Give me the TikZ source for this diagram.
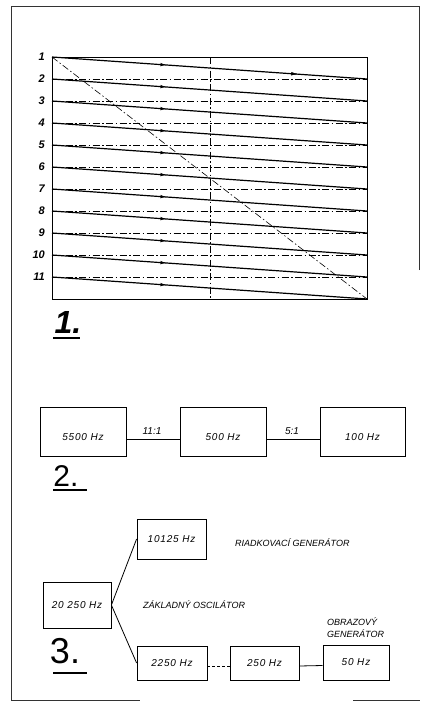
\documentclass[tikz,border=0pt]{standalone}
\usepackage{fontspec}
\setmainfont{Liberation Sans}
\usetikzlibrary{decorations.markings,arrows.meta}
\tikzset{
  chartline/.style={line width=1.2pt, postaction={decorate},
    decoration={markings, mark=at position 0.365 with {\arrow{Latex[length=6.5pt,width=3.5pt]}}}},
  dashdotline/.style={line width=0.6pt, dash pattern=on 7pt off 2.5pt on 1.5pt off 2.5pt},
  rowlab/.style={font=\fontsize{11}{13}\selectfont\bfseries\itshape, anchor=east, inner sep=0pt},
  hzbox/.style={draw, line width=0.8pt, inner sep=0pt, font=\fontsize{10}{12}\selectfont\itshape\addfontfeatures{LetterSpace=8}},
  small/.style={font=\fontsize{9}{11}\selectfont\itshape, inner sep=0pt},
  bignum/.style={font=\fontsize{30}{32}\selectfont, inner sep=0pt},
  conn/.style={line width=0.8pt}
}
\begin{document}
\begin{tikzpicture}[x=1pt,y=-1pt]
\useasboundingbox (0,0) rectangle (423,712);
% outer frame
\coordinate (FTL) at (11,6);
\coordinate (FTR) at (419,6);
\coordinate (FRB) at (419,270);
\coordinate (FBL) at (11,700);
\coordinate (FB1) at (140,700);
\coordinate (FB2) at (353,700);
\coordinate (FB3) at (420,700);
\draw[line width=0.7pt, black!80] (FRB) -- (FTR) -- (FTL) -- (FBL) -- (FB1);
\draw[line width=0.7pt, black!80] (FB2) -- (FB3);

% figure 1
\foreach \k in {1,...,12}{
  \coordinate (L\k) at (52,{57+22*(\k-1)});
  \coordinate (R\k) at (367,{57+22*(\k-1)});
}
\draw[line width=0.7pt] (L1) rectangle (R12);
\coordinate (VT) at (210,57);
\coordinate (VB) at (210,299);
\draw[dashdotline] (VT) -- (VB);
\foreach \k in {2,...,11}{
  \draw[dashdotline] (L\k) -- (R\k);
}
\foreach \k [count=\n from 2] in {1,...,11}{
  \draw[chartline] (L\k) -- (R\n);
}
\path (L1) -- (R2) [postaction={decorate}, decoration={markings, mark=at position 0.78 with {\arrow{Latex[length=6.5pt,width=3.5pt]}}}];
\draw[dashdotline] (L1) -- (R12);
\foreach \k in {1,...,11}{
  \node[rowlab] (row\k) at (45,{57+22*(\k-1)}) {\k};
}
\node[font=\fontsize{32}{34}\selectfont\bfseries\itshape, inner sep=0pt] (f1) at (68,322) {1.};
\coordinate (u1a) at (53,338);
\coordinate (u1b) at (80,338);
\draw[line width=1.8pt] (u1a) -- (u1b);

% figure 2
\node[hzbox, minimum width=86pt, minimum height=49pt, text height=18pt, text depth=0pt] (b1) at (83,431.5) {5500 Hz};
\node[hzbox, minimum width=86pt, minimum height=49pt, text height=18pt, text depth=0pt] (b2) at (223,431.5) {500 Hz};
\node[hzbox, minimum width=85pt, minimum height=49pt, text height=18pt, text depth=0pt] (b3) at (362.5,431.5) {100 Hz};
\draw[conn] ([yshift=-7.5pt]b1.east) -- ([yshift=-7.5pt]b2.west);
\draw[conn] ([yshift=-7.5pt]b2.east) -- ([yshift=-7.5pt]b3.west);
\node[small, font=\fontsize{10}{12}\selectfont\itshape] (r1) at (152,431) {11:1};
\node[small, font=\fontsize{10}{12}\selectfont\itshape] (r2) at (292,431) {5:1};
\node[bignum] (f2) at (66,476) {2.};
\coordinate (u2a) at (53,490);
\coordinate (u2b) at (87,490);
\draw[line width=1.2pt] (u2a) -- (u2b);

% figure 3
\node[hzbox, minimum width=69pt, minimum height=40pt] (n10) at (171.5,539) {10125 Hz};
\node[hzbox, minimum width=68pt, minimum height=46pt] (n20) at (77,605) {20 250 Hz};
\node[hzbox, minimum width=70pt, minimum height=34pt] (n22) at (172,663) {2250 Hz};
\node[hzbox, minimum width=69pt, minimum height=34pt] (n25) at (264.5,663) {250 Hz};
\node[hzbox, minimum width=66pt, minimum height=35pt, line width=1pt] (n50) at (356,662.5) {50 Hz};
\draw[conn] (n20.east) -- (n10.west);
\draw[conn] (n20.east) -- (n22.west);
\draw[conn, densely dashed] ([yshift=-3pt]n22.east) -- ([yshift=-3pt]n25.west);
\draw[conn] ([yshift=-3pt]n25.east) -- ([yshift=-3pt]n50.west);
\node[small, anchor=west] (t1) at (235,543) {RIADKOVACÍ GENERÁTOR};
\node[small, anchor=west] (t2) at (143,605) {ZÁKLADNÝ OSCILÁTOR};
\node[small, anchor=west] (t3) at (327,622) {OBRAZOVÝ};
\node[small, anchor=west] (t4) at (327,634) {GENERÁTOR};
\node[font=\fontsize{36}{38}\selectfont, inner sep=0pt] (f3) at (65,651) {3.};
\coordinate (u3a) at (53,673);
\coordinate (u3b) at (87,673);
\draw[line width=1.2pt] (u3a) -- (u3b);
\end{tikzpicture}
\end{document}
